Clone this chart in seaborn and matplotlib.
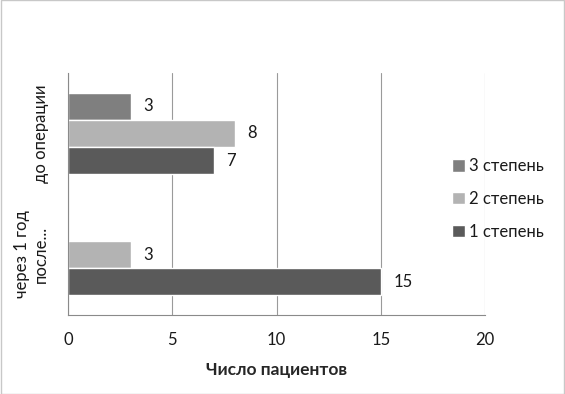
import matplotlib
matplotlib.use("Agg")
import matplotlib.pyplot as plt
import seaborn as sns
import pandas as pd

# chart values
categories = ["до операции", "через 1 год\nпосле..."]
series = ["3 степень", "2 степень", "1 степень"]
values_3 = [3, 0]
values_2 = [8, 3]
values_1 = [7, 15]
colors = ["#7f7f7f", "#b3b3b3", "#5a5a5a"]

rows = []
for name, vals in zip(series, [values_3, values_2, values_1]):
    for cat, v in zip(categories, vals):
        rows.append({"cat": cat, "stage": name, "n": v})
df = pd.DataFrame(rows)

sns.set_style("white")
plt.rcParams["font.family"] = ["Lato", "DejaVu Sans"]
plt.rcParams["text.color"] = "#1a1a1a"

fig = plt.figure(figsize=(5.65, 3.94), dpi=100)
ax = fig.add_axes([68 / 565, 1 - 315 / 394, 417 / 565, 242 / 394])

sns.barplot(data=df, y="cat", x="n", hue="stage", hue_order=series,
            order=categories, palette=colors, orient="h", width=0.67,
            saturation=1, ax=ax, legend=True)

# value labels, skip the empty bar
for cont in ax.containers:
    labels = [f"{w:g}" if w > 0 else "" for w in cont.datavalues]
    ax.bar_label(cont, labels=labels, padding=9, fontsize=12, color="#1a1a1a")

ax.set_xlim(0, 20)
ax.set_ylim(1.5, -0.5)
ax.set_xticks([0, 5, 10, 15, 20])
ax.xaxis.grid(True, color="#9a9a9a", linewidth=0.8)
ax.set_axisbelow(True)
for s in ["top", "right"]:
    ax.spines[s].set_visible(False)
for s in ["left", "bottom"]:
    ax.spines[s].set_color("#8a8a8a")
    ax.spines[s].set_linewidth(0.8)

ax.tick_params(axis="x", length=0, pad=12, labelsize=12, labelcolor="#1a1a1a")
ax.tick_params(axis="y", length=0, pad=14, labelsize=12, labelcolor="#1a1a1a")
for lab in ax.get_yticklabels():
    lab.set_rotation(90)
    lab.set_va("center")
    lab.set_multialignment("center")

ax.set_ylabel("")
ax.set_xlabel("Число пациентов", fontsize=12.5, fontweight="bold", labelpad=10)

ax.get_legend().remove()
handles, labels = ax.get_legend_handles_labels()
fig.legend(handles, labels, loc="center left", bbox_to_anchor=(452 / 565, 1 - 199 / 394),
           frameon=False, fontsize=12, handlelength=0.75, handleheight=0.75,
           handletextpad=0.25, labelspacing=1.0, borderpad=0, borderaxespad=0)

fig.patches.append(plt.Rectangle((0.001, 0.001), 0.998, 0.998, transform=fig.transFigure,
                                 fill=False, edgecolor="#c8c8c8", linewidth=1))

plt.savefig("out.png", dpi=100)
